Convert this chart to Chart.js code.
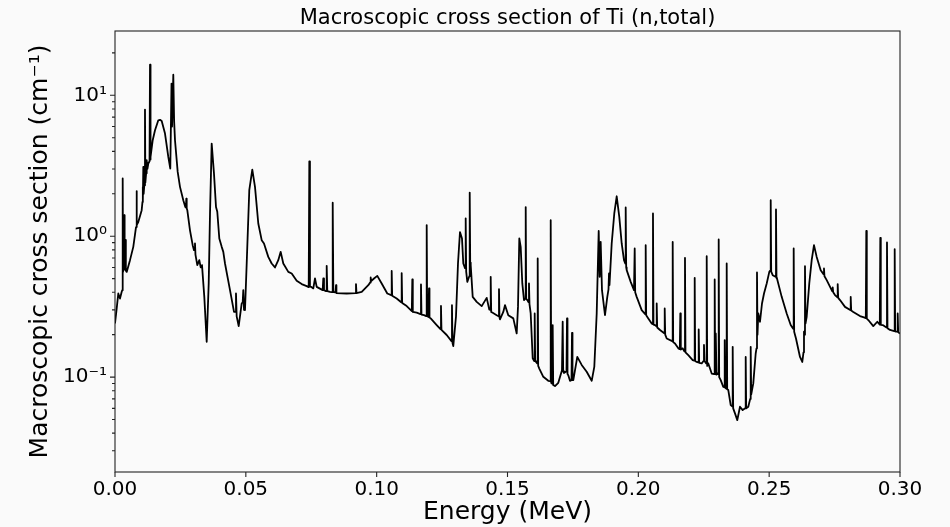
<!DOCTYPE html>
<html>
<head>
<meta charset="utf-8">
<script src="https://cdn.jsdelivr.net/npm/chart.js@4.4.1/dist/chart.umd.min.js"></script>
<style>
html,body{margin:0;padding:0;background:#fafafa;}
#wrap{width:950px;height:527px;}
</style>
</head>
<body>
<div id="wrap"><canvas id="c" width="950" height="527"></canvas></div>
<script>
// Energy (MeV)
const energy = [
0.00000,0.00065,0.00126,0.00191,0.00256,0.00279,0.00294,0.00308,0.00340,0.00355,
0.00368,0.00398,0.00409,0.00420,0.00447,0.00573,0.00699,0.00803,0.00820,0.00829,
0.00840,0.00890,0.01020,0.01050,0.01059,0.01068,0.01082,0.01095,0.01120,0.01146,
0.01160,0.01190,0.01211,0.01240,0.01273,0.01320,0.01338,0.01352,0.01364,0.01441,
0.01529,0.01655,0.01720,0.01785,0.01911,0.02037,0.02113,0.02160,0.02180,0.02228,
0.02260,0.02293,0.02396,0.02484,0.02610,0.02687,0.02710,0.02725,0.02740,0.02763,
0.02866,0.02969,0.03019,0.03040,0.03057,0.03075,0.03145,0.03222,0.03275,0.03325,
0.03413,0.03504,0.03581,0.03631,0.03695,0.03783,0.03860,0.03909,0.03986,0.04078,
0.04139,0.04204,0.04395,0.04548,0.04600,0.04624,0.04650,0.04727,0.04842,0.04880,
0.04903,0.04930,0.04968,0.05033,0.05132,0.05247,0.05350,0.05476,0.05606,0.05694,
0.05858,0.05988,0.06115,0.06240,0.06332,0.06432,0.06623,0.06753,0.06944,0.07135,
0.07326,0.07403,0.07426,0.07450,0.07490,0.07578,0.07643,0.07708,0.07937,0.07960,
0.07987,0.08064,0.08090,0.08113,0.08217,0.08293,0.08320,0.08345,0.08430,0.08446,
0.08462,0.08855,0.09191,0.09210,0.09229,0.09428,0.09680,0.09755,0.09772,0.09790,
0.09898,0.10024,0.10192,0.10406,0.10555,0.10574,0.10593,0.10765,0.10937,0.10956,
0.10975,0.11148,0.11343,0.11362,0.11381,0.11530,0.11675,0.11694,0.11713,0.11809,
0.11893,0.11912,0.11931,0.11981,0.12000,0.12019,0.12065,0.12294,0.12439,0.12458,
0.12477,0.12676,0.12859,0.12878,0.12897,0.12928,0.13031,0.13108,0.13184,0.13261,
0.13311,0.13376,0.13402,0.13421,0.13464,0.13540,0.13556,0.13575,0.13594,0.13670,
0.13823,0.14014,0.14205,0.14304,0.14340,0.14358,0.14377,0.14434,0.14587,0.14656,
0.14675,0.14694,0.14713,0.14839,0.14904,0.15030,0.15222,0.15351,0.15401,0.15451,
0.15504,0.15566,0.15631,0.15680,0.15696,0.15715,0.15757,0.15805,0.15821,0.15840,
0.15886,0.15963,0.16020,0.16039,0.16058,0.16089,0.16135,0.16154,0.16173,0.16215,
0.16368,0.16559,0.16631,0.16651,0.16670,0.16689,0.16710,0.16727,0.16746,0.16815,
0.16941,0.17082,0.17109,0.17128,0.17159,0.17255,0.17274,0.17293,0.17323,0.17388,
0.17446,0.17465,0.17484,0.17515,0.17667,0.17835,0.18026,0.18218,0.18317,0.18409,
0.18485,0.18523,0.18561,0.18611,0.18726,0.18814,0.18860,0.18879,0.18898,0.18982,
0.19081,0.19173,0.19272,0.19364,0.19452,0.19500,0.19517,0.19536,0.19555,0.19708,
0.19834,0.19861,0.19880,0.19937,0.20128,0.20262,0.20281,0.20300,0.20381,0.20511,
0.20541,0.20560,0.20579,0.20637,0.20683,0.20702,0.20721,0.20828,0.20990,0.21008,
0.21027,0.21084,0.21294,0.21313,0.21332,0.21401,0.21527,0.21585,0.21604,0.21623,
0.21695,0.21764,0.21783,0.21802,0.21909,0.22077,0.22135,0.22154,0.22173,0.22230,
0.22288,0.22307,0.22326,0.22421,0.22490,0.22509,0.22528,0.22594,0.22613,0.22632,
0.22674,0.22804,0.22899,0.22918,0.22937,0.22950,0.22968,0.22987,0.23033,0.23052,
0.23071,0.23090,0.23148,0.23247,0.23282,0.23301,0.23320,0.23358,0.23377,0.23396,
0.23438,0.23530,0.23587,0.23606,0.23625,0.23694,0.23782,0.23885,0.23988,0.24084,
0.24103,0.24122,0.24202,0.24275,0.24294,0.24313,0.24393,0.24485,0.24516,0.24535,
0.24554,0.24585,0.24650,0.24726,0.24803,0.24906,0.25005,0.25040,0.25059,0.25078,
0.25135,0.25242,0.25261,0.25280,0.25299,0.25479,0.25670,0.25823,0.25918,0.25937,
0.25956,0.26025,0.26178,0.26266,0.26312,0.26331,0.26350,0.26369,0.26388,0.26434,
0.26533,0.26625,0.26713,0.26816,0.26969,0.27076,0.27095,0.27114,0.27199,0.27409,
0.27428,0.27447,0.27516,0.27600,0.27619,0.27638,0.27707,0.27898,0.28097,0.28116,
0.28135,0.28215,0.28471,0.28624,0.28693,0.28712,0.28731,0.28788,0.28979,0.29132,
0.29228,0.29247,0.29266,0.29339,0.29484,0.29503,0.29522,0.29618,0.29778,0.29797,
0.29816,0.29847,0.29893,0.29912,0.29931,0.30000
];
// Macroscopic cross section (cm^-1)
const sigma = [
0.240,0.307,0.392,0.361,0.403,0.414,2.57,0.560,0.560,1.41,
0.580,0.580,0.940,0.570,0.558,0.676,0.840,1.16,1.18,2.09,
1.20,1.26,1.53,1.75,2.24,1.80,3.10,2.00,2.30,7.92,
2.40,2.80,3.46,3.00,3.28,3.40,16.5,3.50,3.65,4.80,
5.65,6.65,6.70,6.57,5.35,3.65,3.02,12.1,6.00,14.0,
6.50,4.80,2.86,2.24,1.80,1.61,1.60,1.85,1.58,1.53,
1.10,0.863,0.796,0.800,0.888,0.740,0.623,0.676,0.600,0.623,
0.371,0.178,0.462,1.45,4.54,2.78,1.61,1.49,0.963,0.840,
0.774,0.640,0.414,0.290,0.290,0.392,0.270,0.230,0.333,0.340,
0.414,0.300,0.299,0.640,2.12,2.97,2.24,1.23,0.937,0.888,
0.713,0.640,0.600,0.676,0.774,0.640,0.558,0.544,0.482,0.457,
0.442,0.435,3.40,0.440,0.437,0.426,0.501,0.437,0.414,0.501,
0.414,0.407,0.616,0.407,0.403,0.401,1.73,0.401,0.400,0.449,
0.395,0.392,0.394,0.457,0.394,0.403,0.449,0.470,0.509,0.480,
0.501,0.523,0.462,0.392,0.382,0.567,0.378,0.361,0.340,0.547,
0.336,0.319,0.294,0.493,0.290,0.287,0.280,0.454,0.278,0.275,
0.271,1.20,0.270,0.267,0.426,0.265,0.261,0.234,0.219,0.320,
0.216,0.199,0.180,0.324,0.175,0.166,0.268,0.640,1.07,0.963,
0.640,0.593,1.34,0.560,0.474,0.520,2.04,0.650,0.623,0.371,
0.342,0.319,0.365,0.302,0.300,0.515,0.290,0.286,0.275,0.271,
0.421,0.265,0.257,0.290,0.324,0.275,0.261,0.204,0.315,0.963,
0.840,0.462,0.352,0.360,1.61,0.360,0.352,0.340,0.462,0.330,
0.283,0.136,0.130,0.283,0.130,0.128,0.125,0.695,0.120,0.115,
0.1005,0.0941,0.0937,1.30,0.0910,0.0902,0.0900,0.234,0.0880,0.0863,
0.0911,0.112,0.247,0.110,0.107,0.110,0.261,0.105,0.103,0.0941,
0.0950,0.206,0.0950,0.0952,0.139,0.122,0.109,0.0941,0.118,0.283,
1.09,0.515,0.911,0.414,0.275,0.371,0.420,0.544,0.450,0.888,
1.45,1.92,1.37,0.888,0.676,0.640,1.60,0.600,0.574,0.474,
0.414,0.818,0.400,0.371,0.299,0.280,0.863,0.275,0.261,0.240,
0.238,1.45,0.236,0.234,0.230,0.333,0.225,0.216,0.205,0.307,
0.200,0.188,0.180,0.911,0.177,0.173,0.160,0.158,0.283,0.157,
0.160,0.152,0.702,0.150,0.143,0.132,0.131,0.506,0.130,0.128,
0.127,0.218,0.126,0.125,0.130,0.169,0.130,0.125,0.721,0.120,
0.125,0.106,0.105,0.493,0.105,0.105,0.204,0.104,0.106,0.105,
0.948,0.100,0.0952,0.0853,0.0850,0.183,0.0840,0.0830,0.640,0.0820,
0.0809,0.0633,0.0620,0.164,0.0600,0.0553,0.0495,0.0616,0.0583,0.0600,
0.139,0.0600,0.0616,0.0700,0.164,0.0750,0.0902,0.147,0.160,0.553,
0.200,0.283,0.247,0.333,0.392,0.462,0.558,0.570,1.80,0.560,
0.529,0.515,1.55,0.505,0.501,0.371,0.283,0.234,0.220,0.818,
0.210,0.188,0.139,0.128,0.150,0.210,0.200,0.613,0.240,0.268,
0.462,0.676,0.863,0.713,0.574,0.538,0.590,0.520,0.488,0.407,
0.433,0.400,0.382,0.369,0.457,0.365,0.352,0.315,0.299,0.371,
0.297,0.290,0.271,0.265,0.262,1.09,0.260,0.254,0.230,0.247,
0.236,0.973,0.235,0.234,0.225,0.902,0.222,0.216,0.212,0.809,
0.211,0.210,0.210,0.283,0.208,0.204
];
const xTickValues = [0.00, 0.05, 0.10, 0.15, 0.20, 0.25, 0.30];
const yMajorTicks = [0.1, 1, 10];
const yMinorTicks = [0.03,0.04,0.05,0.06,0.07,0.08,0.09,0.2,0.3,0.4,0.5,0.6,0.7,0.8,0.9,2,3,4,5,6,7,8,9,20];
const yMajorLabels = ['10\u207B\u00B9', '10\u2070', '10\u00B9'];
const titleText = 'Macroscopic cross section of Ti (n,total)';
const xTitle = 'Energy (MeV)';
const yTitle = 'Macroscopic cross section (cm\u207B\u00B9)';

if (energy.length !== sigma.length) console.error('length mismatch', energy.length, sigma.length);

const FONT = 'DejaVu Sans';
const frameAndTicks = {
  id: 'frameAndTicks',
  afterDatasetsDraw(chart) {
    const {ctx, chartArea: a, scales: {x, y}} = chart;
    ctx.save();
    ctx.strokeStyle = '#222';
    ctx.lineWidth = 1.1;
    ctx.strokeRect(a.left, a.top, a.right - a.left, a.bottom - a.top);
    ctx.beginPath();
    x.ticks.forEach(t => {
      const px = x.getPixelForValue(t.value);
      ctx.moveTo(px, a.bottom); ctx.lineTo(px, a.bottom + 5);
    });
    y.ticks.forEach(t => {
      const py = y.getPixelForValue(t.value);
      const major = yMajorTicks.includes(t.value);
      ctx.moveTo(a.left, py); ctx.lineTo(a.left - (major ? 5 : 3), py);
    });
    ctx.stroke();
    // axes title, centred over the plot area like the reference
    ctx.fillStyle = '#000';
    ctx.font = '21px "DejaVu Sans"';
    ctx.textAlign = 'center';
    ctx.textBaseline = 'middle';
    ctx.fillText(titleText, (a.left + a.right) / 2, 19);
    ctx.restore();
  }
};

new Chart(document.getElementById('c'), {
  type: 'line',
  data: {
    datasets: [{
      data: energy.map((e, i) => ({x: e, y: sigma[i]})),
      borderColor: '#000',
      borderWidth: 1.8,
      borderJoinStyle: 'round',
      pointRadius: 0,
      tension: 0,
      fill: false
    }]
  },
  options: {
    responsive: false,
    animation: false,
    layout: {padding: {left: 0, right: 50, top: 31, bottom: 0}},
    plugins: {
      legend: {display: false},
      tooltip: {enabled: false},
      title: {display: false}
    },
    scales: {
      x: {
        type: 'linear', min: 0, max: 0.3,
        afterBuildTicks: s => { s.ticks = xTickValues.map(v => ({value: v})); },
        afterFit: s => { s.height = 55; },
        ticks: {
          callback: v => Number(v).toFixed(2),
          color: '#000', font: {family: FONT, size: 20},
          padding: 6, maxRotation: 0, autoSkip: false
        },
        grid: {display: false, drawTicks: false},
        border: {display: false},
        title: {display: true, text: xTitle, color: '#000', font: {family: FONT, size: 25}, padding: {top: 0, bottom: 0}}
      },
      y: {
        type: 'logarithmic', min: 0.0212, max: 28.6,
        afterBuildTicks: s => {
          s.ticks = [...yMinorTicks, ...yMajorTicks].sort((p, q) => p - q).map(v => ({value: v}));
        },
        afterFit: s => { s.width = 115; },
        ticks: {
          callback: v => { const i = yMajorTicks.indexOf(v); return i >= 0 ? yMajorLabels[i] : ''; },
          color: '#000', font: {family: FONT, size: 20},
          padding: 8, autoSkip: false
        },
        grid: {display: false, drawTicks: false},
        border: {display: false},
        title: {display: true, text: yTitle, color: '#000', font: {family: FONT, size: 25}, padding: {top: 25, bottom: 0}}
      }
    }
  },
  plugins: [frameAndTicks]
});
</script>
</body>
</html>
